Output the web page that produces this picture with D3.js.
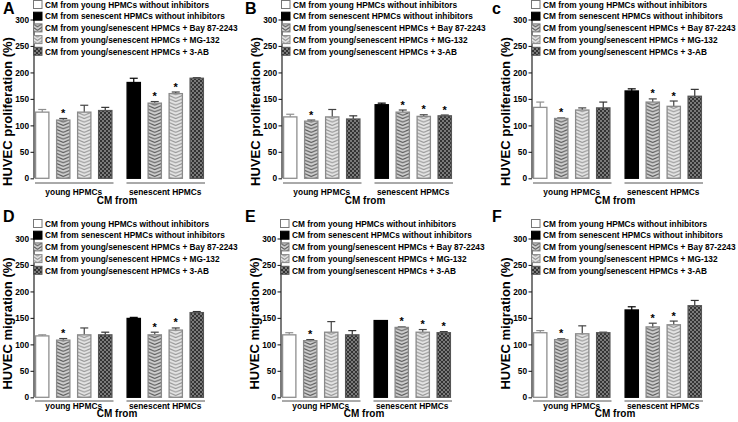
<!DOCTYPE html>
<html><head><meta charset="utf-8">
<script src="https://cdn.jsdelivr.net/npm/d3@7"></script>
<style>
html,body{margin:0;padding:0;background:#fff;}
svg text{font-family:"Liberation Sans",Arial,Helvetica,sans-serif;font-weight:bold;fill:#000;}
</style></head>
<body>
<script>
// ---------- data ----------
const groups = ["young HPMCs", "senescent HPMCs"];
const barKeys = ["control", "bay", "mg", "ab"];
const legendLabels = [
  "CM from young HPMCs without inhibitors",
  "CM from senescent HPMCs without inhibitors",
  "CM from young/senescent HPMCs + Bay 87-2243",
  "CM from young/senescent HPMCs + MG-132",
  "CM from young/senescent HPMCs + 3-AB"
];
const yTicks = [0, 50, 100, 150, 200, 250, 300];
const panelLetters = ["A", "B", "c", "D", "E", "F"];
const yLabels = ["HUVEC proliferation (%)", "HUVEC proliferation (%)", "HUVEC proliferation (%)",
                 "HUVEC migration (%)", "HUVEC migration (%)", "HUVEC migration (%)"];
const xTitle = "CM from";

// means [young, senescent] x [control, Bay, MG, 3-AB]
const meanA = [[125, 110, 125, 128], [181, 142, 160, 189]];
const errA  = [[5, 3, 13, 6], [8, 3, 3, 1]];
const starA = [[0, 1, 0, 0], [0, 1, 1, 0]];

const meanB = [[116, 108, 116, 112], [139, 125, 117, 118]];
const errB  = [[5, 2, 14, 6], [3, 4, 3, 1.5]];
const starB = [[0, 1, 0, 0], [0, 1, 1, 1]];

const meanC = [[134, 113, 129, 133], [165, 144, 136, 155]];
const errC  = [[10, 1, 4, 11], [4, 6, 10, 13]];
const starC = [[0, 1, 0, 0], [0, 1, 1, 0]];

const meanD = [[116, 108, 118, 118], [149, 118, 127, 160]];
const errD  = [[2, 3, 13, 5], [2, 5, 4, 2]];
const starD = [[0, 1, 0, 0], [0, 1, 1, 0]];

const meanE = [[118, 107, 123, 118], [145, 132, 123, 122]];
const errE  = [[4, 2, 20, 8], [0, 1, 5, 2]];
const starE = [[0, 1, 0, 0], [0, 1, 1, 1]];

const meanF = [[122, 109, 120, 122], [165, 133, 137, 173]];
const errF  = [[4, 1.5, 15, 1], [6, 7, 7, 10]];
const starF = [[0, 1, 0, 0], [0, 1, 1, 0]];

const panelMeans = [meanA, meanB, meanC, meanD, meanE, meanF];
const panelErrs  = [errA, errB, errC, errD, errE, errF];
const panelStars = [starA, starB, starC, starD, starE, starF];

// ---------- layout ----------
const W = 738, H = 422;
const panelOffsets = [[0, 0], [248, 0], [498, 0], [0, 219], [247, 219], [498, 219]];
const letterPos = [[3, 13.5], [245, 13.5], [492, 13.5], [3, 222], [245, 222], [492, 222]];
const rowText = [
  {under: 183, grp: 194.5, title: 204.2, ymid: 111.5},
  {under: 182, grp: 189.5, title: 198, ymid: 104.5}
];
const axisX = 34;
const plotTop = 19.5, plotBottom = 178.3;
const barsLeft = 35, barsRight = 204;
const FS = {legend: 8.3, tick: 8.3, group: 8.4, title: 10, ylab: 13, star: 11, letter: 16};

const svg = d3.select("body").append("svg").attr("width", W).attr("height", H)
  .attr("viewBox", `0 0 ${W} ${H}`);
const defs = svg.append("defs");

// 3-AB checker pattern
const pAB = defs.append("pattern").attr("id", "pat-ab").attr("patternUnits", "userSpaceOnUse")
  .attr("width", 4).attr("height", 4);
pAB.append("rect").attr("width", 4).attr("height", 4).attr("fill", "#7a7a7a");
pAB.append("rect").attr("width", 2).attr("height", 2).attr("fill", "#333");
pAB.append("rect").attr("x", 2).attr("y", 2).attr("width", 2).attr("height", 2).attr("fill", "#333");

const styleOf = {
  bay: {bg: "#cfcfcf", line: "#555"},
  mg:  {bg: "#e4e4e4", line: "#929292"}
};
let patCount = 0;
function chevronPattern(kind, x0, w) {
  const id = "pat-" + kind + "-" + (patCount++);
  const st = styleOf[kind];
  const ph = 3.4;
  const p = defs.append("pattern").attr("id", id).attr("patternUnits", "userSpaceOnUse")
    .attr("width", w).attr("height", ph).attr("patternTransform", `translate(${x0},0)`);
  p.append("rect").attr("width", w).attr("height", ph).attr("fill", st.bg);
  for (const dy of [-ph, 0, ph]) {
    p.append("path").attr("d", `M0,${dy} L${w / 2},${dy + ph * 0.9} L${w},${dy}`)
      .attr("fill", "none").attr("stroke", st.line).attr("stroke-width", 1.0);
  }
  return "url(#" + id + ")";
}

const y = d3.scaleLinear().domain([0, 300]).range([plotBottom, plotTop]);
const x0 = d3.scaleBand().domain(groups).range([barsLeft, barsRight]).paddingInner(0.153).paddingOuter(0);
const x1 = d3.scaleBand().domain(barKeys).range([0, x0.bandwidth()]).paddingInner(0.31).paddingOuter(0);

panelMeans.forEach((means, pi) => {
  const [ox, oy] = panelOffsets[pi];
  const row = pi < 3 ? 0 : 1;
  const rt = rowText[row];
  const g = svg.append("g").attr("transform", `translate(${ox},${oy})`);

  // y label
  g.append("text").attr("transform", `translate(12,${rt.ymid}) rotate(-90)`)
    .attr("text-anchor", "middle").attr("font-size", FS.ylab).text(yLabels[pi]);

  // y axis via d3
  const ax = g.append("g").attr("transform", `translate(${axisX},0)`)
    .call(d3.axisLeft(y).tickValues(yTicks).tickSize(3.5).tickPadding(1.5).tickFormat(d => String(d)));
  ax.attr("font-size", FS.tick).attr("font-family", "Liberation Sans, Arial, sans-serif");
  ax.select(".domain").attr("stroke", "#222").attr("stroke-width", 1.2)
    .attr("d", `M0,${plotTop}V${plotBottom}`);
  ax.selectAll(".tick line").attr("stroke", "#222").attr("stroke-width", 1.1);
  ax.selectAll(".tick text").attr("fill", "#000").attr("font-weight", "bold");

  // bars
  groups.forEach((grp, gi) => {
    const gx = x0(grp);
    barKeys.forEach((k, ki) => {
      const v = means[gi][ki];
      const e = panelErrs[pi][gi][ki];
      const bx = gx + x1(k), bw = x1.bandwidth();
      let fill, stroke, ecol;
      if (k === "control") {
        if (gi === 0) { fill = "#fff"; stroke = "#8f8f8f"; ecol = "#8f8f8f"; }
        else { fill = "#000"; stroke = "#000"; ecol = "#000"; }
      } else if (k === "ab") { fill = "url(#pat-ab)"; stroke = "#555"; ecol = "#333"; }
      else { fill = chevronPattern(k, bx, bw); stroke = "#8a8a8a"; ecol = "#444"; }
      const cx = bx + bw / 2;
      if (e > 0) {
        g.append("line").attr("x1", cx).attr("x2", cx).attr("y1", y(v)).attr("y2", y(v + e))
          .attr("stroke", ecol).attr("stroke-width", 1.2);
        g.append("line").attr("x1", cx - 4).attr("x2", cx + 4).attr("y1", y(v + e)).attr("y2", y(v + e))
          .attr("stroke", ecol).attr("stroke-width", 1.2);
      }
      g.append("rect").attr("x", bx + 0.6).attr("y", y(v)).attr("width", bw - 1.2)
        .attr("height", y(0) - y(v)).attr("fill", fill).attr("stroke", stroke).attr("stroke-width", 1.3);
      if (panelStars[pi][gi][ki]) {
        g.append("text").attr("x", cx).attr("y", y(v + e) - 1.5).attr("text-anchor", "middle")
          .attr("font-size", FS.star).text("*");
      }
    });
    g.append("line").attr("x1", gx).attr("x2", gx + x0.bandwidth() + 1).attr("y1", rt.under).attr("y2", rt.under)
      .attr("stroke", "#555").attr("stroke-width", 1);
    g.append("text").attr("x", gx + x0.bandwidth() / 2).attr("y", rt.grp).attr("text-anchor", "middle")
      .attr("font-size", FS.group).text(grp);
  });
  g.append("text").attr("x", (barsLeft + barsRight) / 2 - 2.5).attr("y", rt.title).attr("text-anchor", "middle")
    .attr("font-size", FS.title).text(xTitle);

  // legend
  const lg = g.append("g");
  legendLabels.forEach((lab, li) => {
    const cy = 4.5 + 11.7 * li;
    let fill, stroke;
    if (li === 0) { fill = "#fff"; stroke = "#777"; }
    else if (li === 1) { fill = "#000"; stroke = "#000"; }
    else if (li === 2) { fill = chevronPattern("bay", 33, 9); stroke = "#777"; }
    else if (li === 3) { fill = chevronPattern("mg", 33, 9); stroke = "#888"; }
    else { fill = "url(#pat-ab)"; stroke = "#555"; }
    lg.append("rect").attr("x", 33.5).attr("y", cy - 4).attr("width", 8.5).attr("height", 8)
      .attr("fill", fill).attr("stroke", stroke).attr("stroke-width", 1);
    lg.append("text").attr("x", 45).attr("y", cy + 3.2).attr("font-size", FS.legend).text(lab);
  });
});

// panel letters
panelLetters.forEach((L, i) => {
  svg.append("text").attr("x", letterPos[i][0]).attr("y", letterPos[i][1]).attr("font-size", FS.letter).text(L);
});
</script>
</body></html>
